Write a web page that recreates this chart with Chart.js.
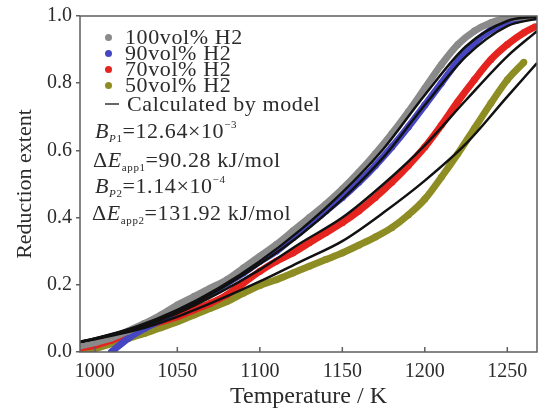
<!DOCTYPE html>
<html>
<head>
<meta charset="utf-8">
<script src="https://cdn.jsdelivr.net/npm/chart.js@4.4.1/dist/chart.umd.min.js"></script>
<style>
  body { margin: 0; background: #fff; }
  #wrap { position: relative; width: 541px; height: 415px; }
  .txt {
    position: absolute; white-space: nowrap;
    font-family: "Liberation Serif", "Times New Roman", serif;
    font-size: 22px; line-height: 22px; color: #2b2b2b; letter-spacing: 0.6px;
  }
  .txt i { font-style: italic; }
  .txt sub { font-size: 11px; vertical-align: -4px; line-height: 0; }
  .txt sup { font-size: 11px; vertical-align: 10px; line-height: 0; }
  .dot { position: absolute; width: 7px; height: 7px; border-radius: 50%; }
  .dash { position: absolute; width: 14px; height: 2px; background: #666; }
</style>
</head>
<body>
<div id="wrap">
  <canvas id="chart" width="541" height="415"></canvas>

  <!-- legend -->
  <div class="dot" style="left:105px;top:34px;background:#8a8a8a"></div>
  <div class="txt" style="left:125px;top:26px">100vol% H2</div>
  <div class="dot" style="left:105px;top:50px;background:#4646c2"></div>
  <div class="txt" style="left:125px;top:42px">90vol% H2</div>
  <div class="dot" style="left:105px;top:66px;background:#e5231f"></div>
  <div class="txt" style="left:125px;top:58px">70vol% H2</div>
  <div class="dot" style="left:105px;top:82px;background:#8d8d24"></div>
  <div class="txt" style="left:125px;top:74px">50vol% H2</div>
  <div class="dash" style="left:105px;top:103px"></div>
  <div class="txt" style="left:127px;top:93px">Calculated by model</div>

  <!-- fitted parameters -->
  <div class="txt" style="left:95px;top:120px"><i>B</i><sub><i>P</i>1</sub>=12.64×10<sup>−3</sup></div>
  <div class="txt" style="left:93px;top:149px">Δ<i>E</i><sub>app1</sub>=90.28 kJ/mol</div>
  <div class="txt" style="left:95px;top:175px"><i>B</i><sub><i>P</i>2</sub>=1.14×10<sup>−4</sup></div>
  <div class="txt" style="left:92px;top:202px">Δ<i>E</i><sub>app2</sub>=131.92 kJ/mol</div>
</div>

<script>
// temperature grid (K) of the measured curves
const temps = [991, 1000, 1010, 1020, 1030, 1040, 1050, 1060, 1070, 1080, 1090, 1100,
  1110, 1120, 1130, 1140, 1150, 1160, 1170, 1180, 1190, 1200, 1210, 1220, 1230,
  1240, 1250, 1260, 1267];

// measured reduction extent
const h2_100 = [0.018, 0.028, 0.042, 0.062, 0.085, 0.11, 0.14, 0.165, 0.19, 0.215, 0.25, 0.285,
  0.32, 0.36, 0.40, 0.44, 0.485, 0.535, 0.59, 0.65, 0.715, 0.785, 0.855, 0.915, 0.955,
  0.98, 0.993, 0.998, 1.0];
const h2_90 = [null, null, 0.0, 0.04, 0.07, 0.095, 0.125, 0.15, 0.175, 0.205, 0.235, 0.27,
  0.30, 0.34, 0.38, 0.42, 0.46, 0.505, 0.555, 0.61, 0.67, 0.735, 0.80, 0.865, 0.92,
  0.958, 0.98, 0.993, 0.998];
const h2_70 = [0.012, 0.02, 0.035, 0.055, 0.075, 0.09, 0.105, 0.125, 0.145, 0.17, 0.205, 0.24,
  0.27, 0.295, 0.325, 0.355, 0.385, 0.42, 0.46, 0.505, 0.555, 0.61, 0.675, 0.745, 0.81,
  0.87, 0.915, 0.95, 0.968];
const h2_50 = [0.003, 0.01, 0.025, 0.04, 0.055, 0.072, 0.09, 0.11, 0.13, 0.15, 0.175, 0.198,
  0.215, 0.235, 0.255, 0.275, 0.295, 0.318, 0.342, 0.37, 0.408, 0.455, 0.52, 0.59, 0.665,
  0.74, 0.81, 0.862, null];

// model curves
const modelTemps = [991, 1000, 1025, 1050, 1075, 1100, 1125, 1150, 1175, 1200, 1225, 1250, 1268];
const model100 = [0.03, 0.04, 0.075, 0.125, 0.19, 0.27, 0.365, 0.475, 0.605, 0.765, 0.91, 0.985, 0.998];
const model90 = [0.03, 0.04, 0.073, 0.12, 0.185, 0.262, 0.35, 0.455, 0.58, 0.735, 0.88, 0.97, 0.992];
const model70 = [0.03, 0.039, 0.07, 0.115, 0.175, 0.245, 0.325, 0.40, 0.50, 0.615, 0.75, 0.88, 0.955];
const model50 = [0.03, 0.038, 0.065, 0.105, 0.155, 0.21, 0.27, 0.33, 0.415, 0.51, 0.62, 0.76, 0.86];

const xTicks = [1000, 1050, 1100, 1150, 1200, 1250];
const yTicks = [0, 0.2, 0.4, 0.6, 0.8, 1.0];

const FONT = '"Liberation Serif", "Times New Roman", serif';
const AXIS = '#5e5e5e';
const INK = '#2b2b2b';

function pts(xs, ys) {
  return xs.map((x, i) => ({ x: x, y: ys[i] })).filter(p => p.y !== null);
}

function measured(ys, color) {
  return {
    data: pts(temps, ys),
    borderColor: color,
    backgroundColor: color,
    borderWidth: 7,
    pointRadius: 3.5,
    pointBorderWidth: 0,
    cubicInterpolationMode: 'monotone',
    order: 2
  };
}

function model(ys) {
  return {
    data: pts(modelTemps, ys),
    borderColor: '#111',
    borderWidth: 2.5,
    pointRadius: 0,
    cubicInterpolationMode: 'monotone',
    order: 1
  };
}

// frame around the plot area and inward x ticks
const frameTicks = {
  id: 'frameTicks',
  afterDraw(chart) {
    const { ctx, chartArea: a, scales: { x } } = chart;
    ctx.save();
    ctx.strokeStyle = AXIS;
    ctx.lineWidth = 1.5;
    ctx.strokeRect(a.left, a.top, a.right - a.left, a.bottom - a.top);
    ctx.beginPath();
    xTicks.forEach(t => {
      const px = x.getPixelForValue(t);
      ctx.moveTo(px, a.bottom);
      ctx.lineTo(px, a.bottom - 5);
    });
    ctx.stroke();
    ctx.restore();
  }
};

new Chart(document.getElementById('chart'), {
  type: 'line',
  data: {
    datasets: [
      measured(h2_100, '#8a8a8a'),
      measured(h2_90, '#4646c2'),
      measured(h2_70, '#e5231f'),
      measured(h2_50, '#8d8d24'),
      model(model100),
      model(model90),
      model(model70),
      model(model50)
    ]
  },
  options: {
    responsive: false,
    animation: false,
    layout: { padding: { top: 15, right: 3, left: 0, bottom: 0 } },
    plugins: { legend: { display: false }, tooltip: { enabled: false } },
    scales: {
      x: {
        type: 'linear',
        min: 991,
        max: 1268,
        afterBuildTicks: s => { s.ticks = xTicks.map(v => ({ value: v })); },
        afterFit: s => { s.height = 63; },
        grid: { display: false, drawTicks: false },
        border: { display: false },
        ticks: {
          padding: 8,
          color: INK,
          font: { family: FONT, size: 20 },
          callback: v => String(v)
        },
        title: {
          display: true,
          text: 'Temperature / K',
          color: INK,
          font: { family: FONT, size: 24 },
          padding: { top: 0, bottom: 4 }
        }
      },
      y: {
        min: 0,
        max: 1,
        afterBuildTicks: s => { s.ticks = yTicks.map(v => ({ value: v })); },
        afterFit: s => { s.width = 80; },
        grid: { drawOnChartArea: false, tickLength: 4, color: AXIS, lineWidth: 1.5 },
        border: { display: false },
        ticks: {
          padding: 4,
          color: INK,
          font: { family: FONT, size: 20 },
          callback: v => v.toFixed(1)
        },
        title: {
          display: true,
          text: 'Reduction extent',
          color: INK,
          font: { family: FONT, size: 22 },
          padding: { top: 12, bottom: 0 }
        }
      }
    }
  },
  plugins: [frameTicks]
});
</script>
</body>
</html>
